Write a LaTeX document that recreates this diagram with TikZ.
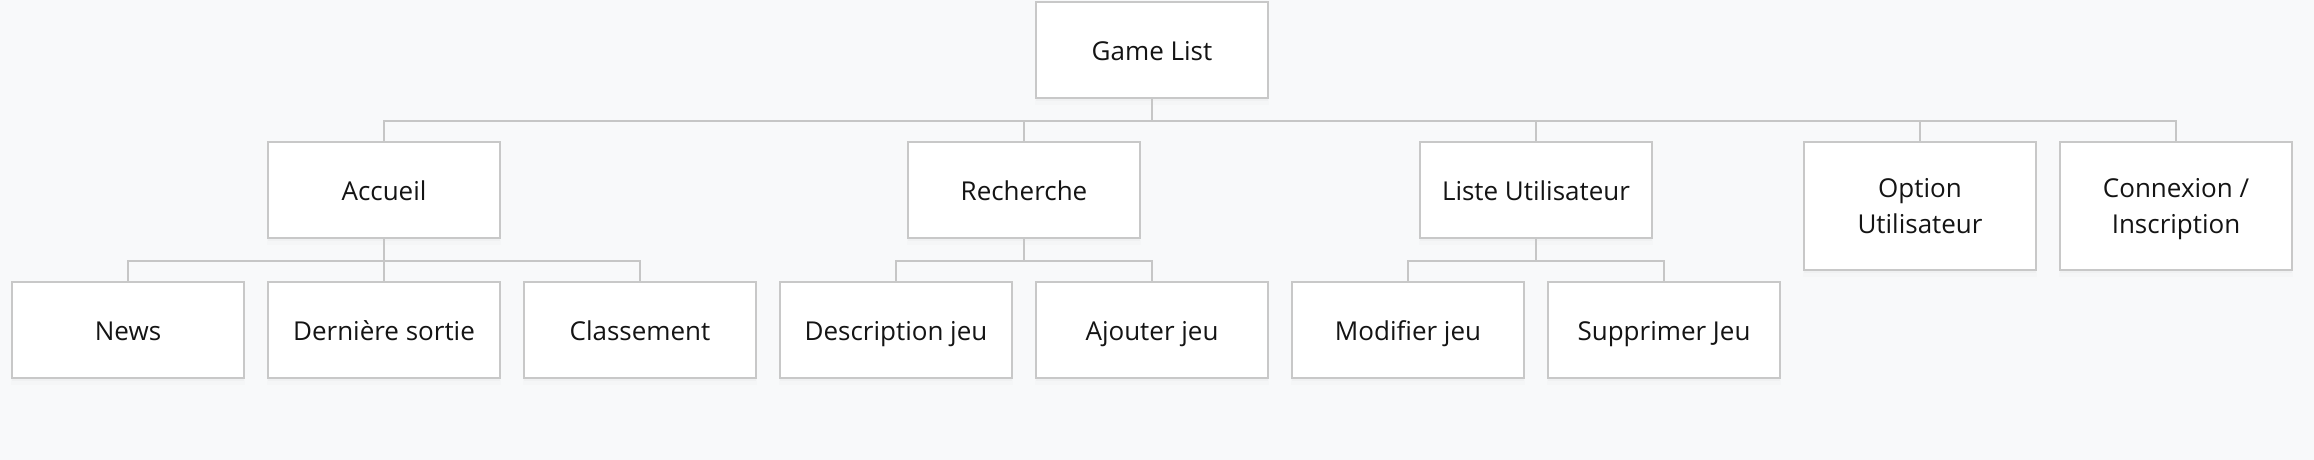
\documentclass[tikz,border=0pt]{standalone}
\usepackage{fontspec}
\setmainfont{Open Sans}
\usetikzlibrary{positioning,calc,shadows}

\definecolor{pagebg}{HTML}{F8F9FA}
\definecolor{boxline}{HTML}{C8C8C8}
\definecolor{wire}{HTML}{C6C6C6}
\definecolor{label}{HTML}{141414}

\begin{document}
\begin{tikzpicture}[x=1pt,y=1pt,node distance=42pt and 22pt,
    basebox/.style={draw=boxline,line width=2pt,fill=white,text=label,
      minimum width=232pt,minimum height=96pt,inner sep=0pt,
      font=\fontsize{26}{36}\selectfont,
      drop shadow={shadow xshift=0pt,shadow yshift=-6pt,shadow scale=1.01,opacity=.025},
      drop shadow={shadow xshift=0pt,shadow yshift=-3pt,opacity=.04}},
    box/.style={basebox,text height=21pt,text depth=0pt},
    tallbox/.style={basebox,minimum height=128pt,align=center,text depth=0pt},
    link/.style={draw=wire,line width=2pt}]

  \fill[pagebg] (0,0) rectangle (2314,-460);
  \useasboundingbox (0,0) rectangle (2314,-460);

  % bottom row
  \node[box] (news) at (128,-330) {News};
  \node[box,right=of news] (derniere) {Dernière sortie};
  \node[box,right=of derniere] (classement) {Classement};
  \node[box,right=of classement] (description) {Description jeu};
  \node[box,right=of description] (ajouter) {Ajouter jeu};
  \node[box,right=of ajouter] (modifier) {Modifier jeu};
  \node[box,right=of modifier] (supprimer) {Supprimer Jeu};

  % middle row
  \node[box,above=of derniere] (accueil) {Accueil};
  \coordinate (recherche-in) at ($(description.north)!.5!(ajouter.north)$);
  \node[box,above=of recherche-in] (recherche) {Recherche};
  \coordinate (liste-in) at ($(modifier.north)!.5!(supprimer.north)$);
  \node[box,above=of liste-in] (liste) {Liste Utilisateur};
  \node[tallbox,anchor=north] (option) at (1920,0 |- liste.north) {Option\\Utilisateur};
  \node[tallbox,right=of option] (connexion) {Connexion /\\Inscription};

  % top
  \coordinate (game-in) at (ajouter |- recherche.north);
  \node[box,above=of game-in] (game) {Game List};

  \draw[link] (game.south) -- ++(0,-22) coordinate (bus);
  \foreach \n in {accueil,recherche,liste,option,connexion}
    \draw[link] (\n.north) |- (bus);
  \foreach \p/\c in {accueil/news,accueil/derniere,accueil/classement,
      recherche/description,recherche/ajouter,liste/modifier,liste/supprimer}
    \draw[link] (\p.south) -- ++(0,-22) -| (\c.north);

\end{tikzpicture}
\end{document}
